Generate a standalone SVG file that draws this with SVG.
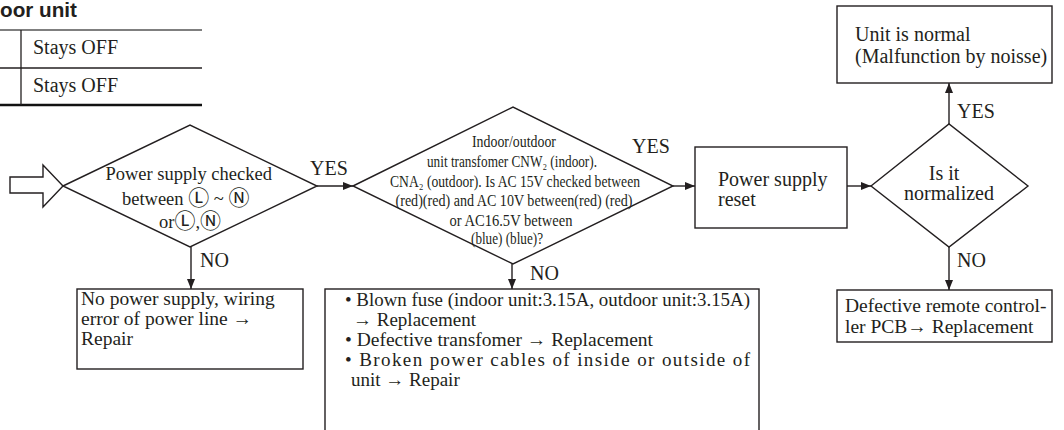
<svg xmlns="http://www.w3.org/2000/svg" width="1064" height="430" viewBox="0 0 1064 430">
<defs>
<style>
.t{font-family:"Liberation Serif","Times New Roman",serif;fill:#231f20;}
.s{stroke:#231f20;stroke-width:1.4;fill:#fff;}
.c{stroke:#231f20;stroke-width:1.4;fill:none;}
.m{marker-end:url(#ah);}
.cc{font-family:"DejaVu Sans","Noto Sans CJK SC",sans-serif;font-size:21px;}
</style>
<marker id="ah" viewBox="0 0 10 8" refX="10" refY="4" markerWidth="10" markerHeight="8" markerUnits="userSpaceOnUse" orient="auto">
<path d="M0,0 L10,4 L0,8 Z" fill="#231f20"/>
</marker>
</defs>
<rect width="1064" height="430" fill="#fff"/>

<g id="header">
<text x="0" y="17" font-family="Liberation Sans,Arial,sans-serif" font-weight="bold" font-size="20" fill="#231f20" textLength="77" lengthAdjust="spacingAndGlyphs">oor unit</text>
<line x1="0" y1="30" x2="202" y2="30" stroke="#555" stroke-width="1.5"/>
<line x1="0" y1="68" x2="202" y2="68" stroke="#231f20" stroke-width="1.3"/>
<line x1="0" y1="105" x2="202" y2="105" stroke="#111" stroke-width="2.6"/>
<line x1="21" y1="30" x2="21" y2="105" stroke="#231f20" stroke-width="1.3"/>
<text class="t" x="33" y="54" font-size="20">Stays OFF</text>
<text class="t" x="33" y="92" font-size="20">Stays OFF</text>
</g>

<g id="start-arrow">
<polygon class="s" points="10,177 43,177 43,165 63,186 43,207 43,193 10,193"/>
</g>

<g id="d1">
<polygon class="s" points="63,186 190,125 317,186 190,247"/>
<text class="t" font-size="18.5" text-anchor="middle">
<tspan x="191" y="180">Power supply checked</tspan>
<tspan x="188" y="205">between <tspan class="cc">Ⓛ</tspan> ~ <tspan class="cc">Ⓝ</tspan></tspan>
<tspan x="190" y="228">or<tspan class="cc">Ⓛ</tspan>,<tspan class="cc">Ⓝ</tspan></tspan>
</text>
</g>

<g id="d2">
<polygon class="s" points="353,186 513,107 673,186 513,264"/>
<g class="t" font-size="17.5" text-anchor="middle">
<text x="514" y="147" textLength="84" lengthAdjust="spacingAndGlyphs">Indoor/outdoor</text>
<text x="512" y="167" textLength="170" lengthAdjust="spacingAndGlyphs">unit transfomer CNW₂ (indoor).</text>
<text x="515" y="187" textLength="250" lengthAdjust="spacingAndGlyphs">CNA₂ (outdoor). Is AC 15V checked between</text>
<text x="514" y="206" textLength="237" lengthAdjust="spacingAndGlyphs">(red)(red) and AC 10V between(red) (red)</text>
<text x="511" y="226" textLength="123" lengthAdjust="spacingAndGlyphs">or AC16.5V between</text>
<text x="507" y="244" textLength="72" lengthAdjust="spacingAndGlyphs">(blue) (blue)?</text>
</g>
</g>

<g id="reset">
<rect class="s" x="695" y="147" width="152" height="81"/>
<text class="t" font-size="20"><tspan x="718" y="186">Power supply</tspan><tspan x="718" y="206">reset</tspan></text>
</g>

<g id="d3">
<polygon class="s" points="871,186 949,124 1028,186 949,247"/>
<text class="t" font-size="20" text-anchor="middle"><tspan x="944" y="180">Is it</tspan><tspan x="949" y="200">normalized</tspan></text>
</g>

<g id="normal">
<rect class="s" x="837" y="6" width="215" height="77"/>
<text class="t" font-size="20"><tspan x="855" y="41">Unit is normal</tspan><tspan x="855" y="63">(Malfunction by noisse)</tspan></text>
</g>

<g id="remote">
<rect class="s" x="837" y="290" width="215" height="52"/>
<text class="t" font-size="19.5"><tspan x="845" y="312">Defective remote control-</tspan><tspan x="845" y="333">ler PCB→ Replacement</tspan></text>
</g>

<g id="nopower">
<rect class="s" x="77" y="289" width="226" height="80"/>
<text class="t" font-size="19.5"><tspan x="81" y="305">No power supply, wiring</tspan><tspan x="81" y="325">error of power line →</tspan><tspan x="81" y="345">Repair</tspan></text>
</g>

<g id="causes">
<rect class="s" x="325" y="289" width="434" height="160"/>
<g class="t" font-size="19">
<text x="345" y="306" textLength="405" lengthAdjust="spacingAndGlyphs">• Blown fuse (indoor unit:3.15A, outdoor unit:3.15A)</text>
<text x="353" y="326">→ Replacement</text>
<text x="345" y="346" textLength="308" lengthAdjust="spacingAndGlyphs">• Defective transfomer → Replacement</text>
<text x="345" y="366" textLength="405" lengthAdjust="spacing">• Broken power cables of inside or outside of</text>
<text x="351" y="386">unit → Repair</text>
</g>
</g>

<g id="connectors">
<line class="c m" x1="317" y1="186" x2="353" y2="186"/>
<line class="c m" x1="191" y1="247" x2="191" y2="289"/>
<line class="c m" x1="673" y1="186" x2="695" y2="186"/>
<line class="c m" x1="512" y1="264" x2="512" y2="289"/>
<line class="c m" x1="847" y1="186" x2="871" y2="186"/>
<line class="c m" x1="949" y1="124" x2="949" y2="83"/>
<line class="c m" x1="949" y1="247" x2="949" y2="290"/>
<g class="t" font-size="20">
<text x="310" y="175">YES</text>
<text x="200" y="267">NO</text>
<text x="632" y="153">YES</text>
<text x="530" y="280">NO</text>
<text x="957" y="118">YES</text>
<text x="957" y="267">NO</text>
</g>
</g>
</svg>
